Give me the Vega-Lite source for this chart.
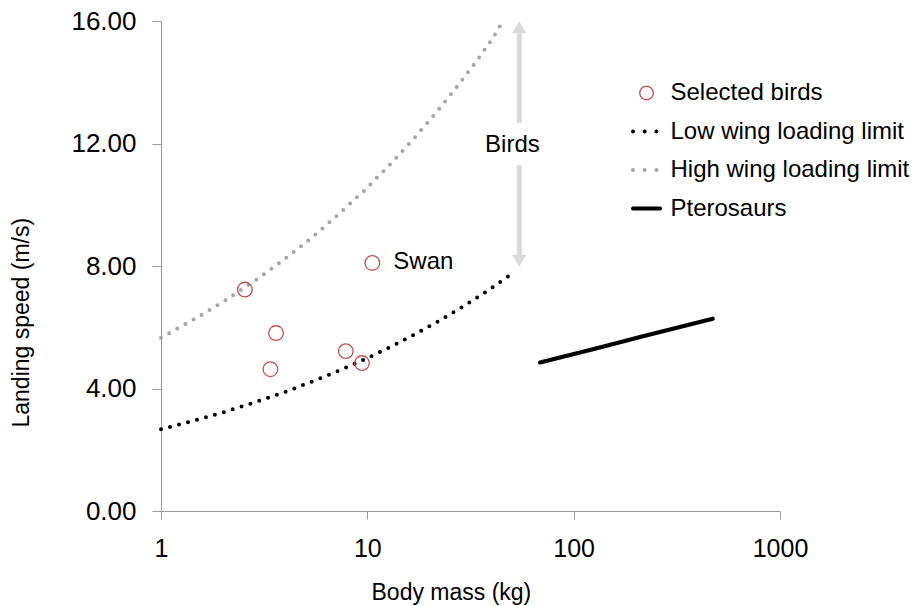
{
  "$schema": "https://vega.github.io/schema/vega-lite/v6.json",
  "width": 619,
  "height": 490,
  "autosize": {"type": "none"},
  "padding": {"left": 161, "top": 21, "right": 142, "bottom": 95},
  "background": "white",
  "config": {
    "font": "Liberation Sans",
    "view": {"stroke": null},
    "axis": {
      "grid": false,
      "domainColor": "#9a9a9a",
      "tickColor": "#9a9a9a",
      "labelColor": "#000000",
      "titleColor": "#000000",
      "labelFont": "Liberation Sans",
      "titleFont": "Liberation Sans",
      "titleFontWeight": "normal",
      "labelFlush": false,
      "labelOverlap": false,
      "labelBound": false
    }
  },
  "datasets": {
    "main": [
      {"series": "Selected birds", "mass": 2.55, "speed": 7.23},
      {"series": "Selected birds", "mass": 3.61, "speed": 5.81},
      {"series": "Selected birds", "mass": 3.39, "speed": 4.63},
      {"series": "Selected birds", "mass": 7.86, "speed": 5.22},
      {"series": "Selected birds", "mass": 9.42, "speed": 4.83},
      {"series": "Selected birds", "mass": 10.57, "speed": 8.10},
      {"series": "Low wing loading limit", "mass": 1, "speed": 2.67},
      {"series": "Low wing loading limit", "mass": 1.5, "speed": 2.98},
      {"series": "Low wing loading limit", "mass": 2, "speed": 3.22},
      {"series": "Low wing loading limit", "mass": 3, "speed": 3.60},
      {"series": "Low wing loading limit", "mass": 4, "speed": 3.89},
      {"series": "Low wing loading limit", "mass": 5, "speed": 4.14},
      {"series": "Low wing loading limit", "mass": 7, "speed": 4.53},
      {"series": "Low wing loading limit", "mass": 10, "speed": 4.99},
      {"series": "Low wing loading limit", "mass": 13, "speed": 5.36},
      {"series": "Low wing loading limit", "mass": 17, "speed": 5.77},
      {"series": "Low wing loading limit", "mass": 22, "speed": 6.19},
      {"series": "Low wing loading limit", "mass": 28, "speed": 6.61},
      {"series": "Low wing loading limit", "mass": 35, "speed": 7.02},
      {"series": "Low wing loading limit", "mass": 42, "speed": 7.38},
      {"series": "Low wing loading limit", "mass": 48.5, "speed": 7.68},
      {"series": "High wing loading limit", "mass": 1, "speed": 5.66},
      {"series": "High wing loading limit", "mass": 1.5, "speed": 6.32},
      {"series": "High wing loading limit", "mass": 2, "speed": 6.83},
      {"series": "High wing loading limit", "mass": 3, "speed": 7.62},
      {"series": "High wing loading limit", "mass": 4, "speed": 8.24},
      {"series": "High wing loading limit", "mass": 5, "speed": 8.75},
      {"series": "High wing loading limit", "mass": 7, "speed": 9.59},
      {"series": "High wing loading limit", "mass": 10, "speed": 10.56},
      {"series": "High wing loading limit", "mass": 13, "speed": 11.34},
      {"series": "High wing loading limit", "mass": 17, "speed": 12.20},
      {"series": "High wing loading limit", "mass": 22, "speed": 13.08},
      {"series": "High wing loading limit", "mass": 28, "speed": 13.96},
      {"series": "High wing loading limit", "mass": 35, "speed": 14.83},
      {"series": "High wing loading limit", "mass": 40, "speed": 15.38},
      {"series": "High wing loading limit", "mass": 44.3, "speed": 15.87},
      {"series": "Pterosaurs", "mass": 68.7, "speed": 4.85},
      {"series": "Pterosaurs", "mass": 120, "speed": 5.26},
      {"series": "Pterosaurs", "mass": 167.8, "speed": 5.51},
      {"series": "Pterosaurs", "mass": 209.7, "speed": 5.68},
      {"series": "Pterosaurs", "mass": 472, "speed": 6.28}
    ],
    "shafts": [
      {"mass": 54.5, "from": 12.67, "to": 15.6},
      {"mass": 54.5, "from": 8.35, "to": 11.29}
    ],
    "heads": [
      {"mass": 54.5, "speed": 15.8, "dir": "triangle-up"},
      {"mass": 54.5, "speed": 8.17, "dir": "triangle-down"}
    ],
    "birdsLabel": [{"label": "Birds", "mass": 50.5, "speed": 11.95}],
    "swanLabel": [{"label": "Swan", "mass": 13.36, "speed": 8.14}]
  },
  "layer": [
    {
      "data": {"name": "main"},
      "transform": [{"filter": "datum.series === 'Low wing loading limit'"}],
      "mark": {"type": "line", "strokeWidth": 4, "strokeCap": "round", "strokeDash": [0, 9.3]},
      "encoding": {
        "x": {"field": "mass", "type": "quantitative", "scale": {"type": "log", "domain": [1, 1000], "nice": false},
          "axis": {"title": "Body mass (kg)", "values": [1, 10, 100, 1000], "format": "d", "labelFontSize": 25, "tickSize": 8, "labelPadding": 17, "titleFontSize": 23, "titleAlign": "left", "titleBaseline": "alphabetic", "titleX": 210, "titleY": 88.6}},
        "y": {"field": "speed", "type": "quantitative", "scale": {"domain": [0, 16], "nice": false, "zero": false},
          "axis": {"title": "Landing speed (m/s)", "values": [0, 4, 8, 12, 16], "format": ".2f", "labelFontSize": 26, "tickSize": 9, "labelPadding": 16, "titleFontSize": 23, "titleAngle": 270, "titleAlign": "left", "titleBaseline": "bottom", "titleX": -128, "titleY": 406}},
        "stroke": {"field": "series", "type": "nominal",
          "scale": {"domain": ["Selected birds", "Low wing loading limit", "High wing loading limit", "Pterosaurs"], "range": ["#c0504d", "#000000", "#a6a6a6", "#000000"]},
          "legend": {
            "title": null, "orient": "none", "legendX": 473.5, "legendY": 60, "padding": 0,
            "labelFontSize": 24, "labelColor": "#000000", "labelOffset": 12, "rowPadding": 14.5, "labelLimit": 500,
            "symbolSize": 729, "symbolStrokeWidth": 4, "symbolType": "stroke",
            "encode": {"symbols": {"update": {
              "shape": {"signal": "datum.value === 'Selected birds' ? 'circle' : 'stroke'"},
              "size": {"signal": "datum.value === 'Selected birds' ? 180 : 729"},
              "strokeWidth": {"signal": "datum.value === 'Selected birds' ? 1.3 : 4"},
              "strokeDash": {"signal": "(datum.value === 'Pterosaurs' || datum.value === 'Selected birds') ? [1, 0] : [0, 11.7]"},
              "strokeCap": {"value": "round"},
              "fill": {"value": "transparent"},
              "opacity": {"value": 1}
            }}}
          }}
      }
    },
    {
      "data": {"name": "main"},
      "transform": [{"filter": "datum.series === 'High wing loading limit'"}],
      "mark": {"type": "line", "strokeWidth": 4, "strokeCap": "round", "strokeDash": [0, 9.3]},
      "encoding": {
        "x": {"field": "mass", "type": "quantitative"},
        "y": {"field": "speed", "type": "quantitative"},
        "stroke": {"field": "series", "type": "nominal"}
      }
    },
    {
      "data": {"name": "main"},
      "transform": [{"filter": "datum.series === 'Pterosaurs'"}],
      "mark": {"type": "line", "strokeWidth": 4.2, "strokeCap": "round"},
      "encoding": {
        "x": {"field": "mass", "type": "quantitative"},
        "y": {"field": "speed", "type": "quantitative"},
        "stroke": {"field": "series", "type": "nominal"}
      }
    },
    {
      "data": {"name": "main"},
      "transform": [{"filter": "datum.series === 'Selected birds'"}],
      "mark": {"type": "point", "shape": "circle", "filled": false, "size": 215, "strokeWidth": 1.3, "opacity": 1},
      "encoding": {
        "x": {"field": "mass", "type": "quantitative"},
        "y": {"field": "speed", "type": "quantitative"},
        "stroke": {"field": "series", "type": "nominal"}
      }
    },
    {
      "data": {"name": "shafts"},
      "mark": {"type": "rule", "color": "#d9d9d9", "strokeWidth": 5},
      "encoding": {
        "x": {"field": "mass", "type": "quantitative"},
        "y": {"field": "from", "type": "quantitative"},
        "y2": {"field": "to"}
      }
    },
    {
      "data": {"name": "heads"},
      "mark": {"type": "point", "filled": true, "color": "#d9d9d9", "size": 196, "opacity": 1},
      "encoding": {
        "x": {"field": "mass", "type": "quantitative"},
        "y": {"field": "speed", "type": "quantitative"},
        "shape": {"field": "dir", "type": "nominal", "scale": null, "legend": null}
      }
    },
    {
      "data": {"name": "birdsLabel"},
      "mark": {"type": "text", "align": "center", "baseline": "middle", "fontSize": 24, "color": "#000000"},
      "encoding": {
        "x": {"field": "mass", "type": "quantitative"},
        "y": {"field": "speed", "type": "quantitative"},
        "text": {"field": "label"}
      }
    },
    {
      "data": {"name": "swanLabel"},
      "mark": {"type": "text", "align": "left", "baseline": "middle", "fontSize": 24, "color": "#000000"},
      "encoding": {
        "x": {"field": "mass", "type": "quantitative"},
        "y": {"field": "speed", "type": "quantitative"},
        "text": {"field": "label"}
      }
    }
  ]
}
